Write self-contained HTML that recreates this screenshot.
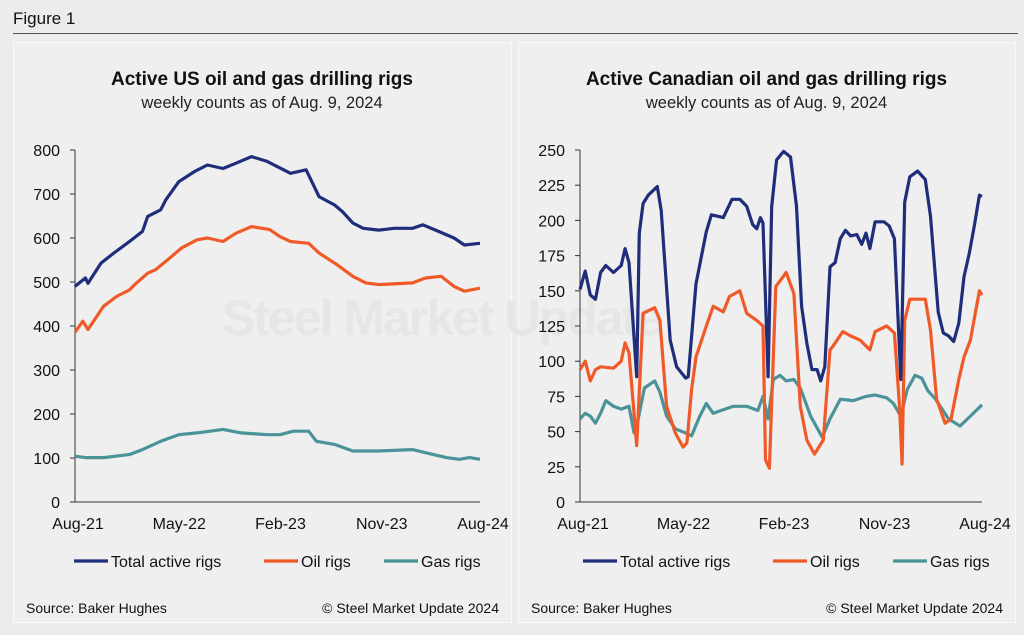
<!DOCTYPE html>
<html><head><meta charset="utf-8"><style>
body{margin:0;background:#ececec;width:1024px;height:630px;overflow:hidden;font-family:"Liberation Sans",Arial,sans-serif}
</style></head><body>
<svg width="1024" height="630" xmlns="http://www.w3.org/2000/svg" font-family="Liberation Sans, Arial, sans-serif" id="fig">
<rect x="0" y="0" width="1024" height="630" fill="#ececec"/>
<text x="13" y="24" font-size="17" fill="#111">Figure 1</text>
<line x1="13" y1="33.5" x2="1018" y2="33.5" stroke="#555" stroke-width="1"/>
<rect x="13.5" y="42.5" width="498" height="580" fill="#efefef" stroke="#fafafa"/>
<rect x="518.5" y="42.5" width="497" height="580" fill="#efefef" stroke="#fafafa"/>
<g id="us"></g><g id="ca"></g>
</svg>
<script>
var NS='http://www.w3.org/2000/svg';
// ---- US data (week index since Aug-21, rig count)
var usTotalWeeks=[0,4,5,10,15,21,26,28,33,35,40,46,51,57,62,68,74,83,89,94,100,103,107,111,117,123,130,134,140,146,150,156];
var usTotalVals=[490,509,497,543,566,592,615,649,664,687,728,751,766,758,770,785,774,747,755,694,675,660,634,622,618,622,622,630,615,600,584,588];
var usOilWeeks=[0,3,5,11,16,21,23,28,31,35,41,47,51,57,62,68,75,79,83,90,94,101,107,112,117,130,135,141,146,150,156];
var usOilVals=[386,411,392,445,467,482,494,520,528,547,577,596,600,592,611,626,619,603,592,588,566,539,513,498,494,498,509,513,490,479,486];
var usGasWeeks=[0,4,11,21,26,33,40,47,52,57,64,74,79,84,90,93,100,107,117,130,135,143,148,152,156];
var usGasVals=[104,101,101,108,119,138,153,157,161,165,157,153,153,161,161,138,131,116,116,119,112,101,97,101,97];
var usTicks=[0,100,200,300,400,500,600,700,800];
// ---- Canada data
var caTotalWeeks=[0,2,4,6,8,10,13,16,17.5,19,22,23,24.5,26.5,30,31.5,35,37.5,41,42,45,49,51,55.6,59,62,64.7,67,68.6,70,71,73,74.4,76.3,79,81.7,84,86,88,90,92,93.4,95,97,99,101,103,105,107.4,109.3,111,112.5,114.5,118,120,122,124.5,126,128,131,134,136,138,139,141,143,145,147,149,151,153,155,156];
var caTotalVals=[151,164,147,144,163,168,163,168,180,170,89,191,212,218,224,207,115,96,88,89,155,192,204,202,215,215,210,197,194,202,198,89,210,243,249,245,210,139,113,94,94,86,96,167,170,187,193,189,190,183,191,180,199,199,196,187,87,213,231,235,229,203,158,135,120,118,114,127,160,176,196,218,217];
var caOilWeeks=[0,2,4,6,8,13,16,17.5,19,22,24.5,29,31,33.6,37,40,41.5,43.3,45,49,51.7,55.6,58,62,64.7,68.6,71,72,73.5,76,80,83,85.5,88,91,94.4,97,98.3,102,105,108.7,112.5,114.5,119,122,124,125,126,128,134,136,138.4,141.7,144,147,149,151.5,155,156];
var caOilVals=[94,100,86,94,96,95,100,113,106,40,134,138,129,68,49,39,42,80,103,125,139,135,146,150,134,129,125,30,24,153,163,148,68,44,34,44,108,111,121,118,115,108,121,125,120,68,27,129,144,144,122,73,56,59,87,103,115,150,147];
var caGasWeeks=[0,2,4,6,8,10,13,16,19,21,22.6,25,29,31,33.6,37,41,43.3,46.5,49,51.7,59.5,64.7,69,71,73,75,77.6,80,83,85.5,89.5,94,97,101,106,111,114.5,119,121.6,124.5,127,130,132.6,135,138,140.5,143,147.5,151.5,156];
var caGasVals=[59,63,61,56,63,72,68,66,68,49,59,81,86,78,61,52,49,47,61,70,63,68,68,65,75,59,87,90,86,87,81,61,46,59,73,72,75,76,74,70,61,80,90,88,79,73,66,59,54,61,69];
var caTicks=[0,25,50,75,100,125,150,175,200,225,250];
var xLabels=['Aug-21','May-22','Feb-23','Nov-23','Aug-24'];
var xLabelWeeks=[0,39,78,117,156];

function el(tag,attrs,parent){var e=document.createElementNS(NS,tag);for(var k in attrs)e.setAttribute(k,attrs[k]);parent.appendChild(e);return e;}

function chart(g,cfg){
  var x0=cfg.x0,x1=cfg.x1,yTop=150,yBot=502;
  function sx(w){return x0+(x1-x0)*w/156;}
  function sy(v){return yBot-(yBot-yTop)*v/cfg.ymax;}
  var cx=(cfg.px+cfg.px2)/2;
  var t=el('text',{x:cx,y:85,'font-size':19,'font-weight':'bold','text-anchor':'middle',fill:'#111'},g);t.textContent=cfg.title;
  
  
  var s=el('text',{x:cx,y:108,'font-size':16.5,'text-anchor':'middle',fill:'#222'},g);s.textContent='weekly counts as of Aug. 9, 2024';
  
  
  var wm=el('text',{x:cfg.wmx,y:335,'font-size':50,'font-weight':'bold',fill:'#e6e6e6','letter-spacing':'-2'},g);wm.textContent=cfg.wm;
  
  
  el('line',{x1:x0,y1:yTop,x2:x0,y2:yBot,stroke:'#333','stroke-width':1},g);
  el('line',{x1:x0,y1:yBot,x2:x1,y2:yBot,stroke:'#333','stroke-width':1},g);
  cfg.ticks.forEach(function(v){
    el('line',{x1:x0-5,y1:sy(v),x2:x0,y2:sy(v),stroke:'#333'},g);
    var tl=el('text',{x:x0-15,y:sy(v)+6,'font-size':16,'text-anchor':'end',fill:'#111'},g);tl.textContent=v;
    
    
  });
  xLabels.forEach(function(l,i){
    var xl=el('text',{x:sx(xLabelWeeks[i])+3,y:529,'font-size':16,'text-anchor':'middle',fill:'#111'},g);xl.textContent=l;
    
    
  });
  cfg.series.forEach(function(sr){
    var d=sr.w.map(function(w,i){return (i?'L':'M')+sx(w).toFixed(1)+','+sy(sr.v[i]).toFixed(1);}).join('');
    var p=el('path',{d:d,fill:'none',stroke:sr.c,'stroke-width':3.2,'stroke-linejoin':'round'},g);
    
    
  });
  var lx=cfg.legx;
  [['Total active rigs','#1f2d7a',0],['Oil rigs','#f05a28',cfg.l2],['Gas rigs','#4a9398',cfg.l3]].forEach(function(L){
    el('line',{x1:lx+L[2],y1:561,x2:lx+L[2]+34,y2:561,stroke:L[1],'stroke-width':3.2},g);
    var lt=el('text',{x:lx+L[2]+37,y:567,'font-size':16,fill:'#111'},g);lt.textContent=L[0];
    
    
  });
  var so=el('text',{x:cfg.px+13,y:613,'font-size':14,fill:'#111'},g);so.textContent='Source: Baker Hughes';
  
  
  var cp=el('text',{x:cfg.px2-12,y:613,'font-size':14,'text-anchor':'end',fill:'#111'},g);cp.textContent='\u00a9 Steel Market Update 2024';
  
  
}
chart(document.getElementById('us'),{x0:75,x1:480,px:13,px2:511,ymax:800,ticks:usTicks,title:'Active US oil and gas drilling rigs',wm:'Steel Market Update',wmx:222,legx:74,l2:190,l3:310,
  series:[{w:usGasWeeks,v:usGasVals,c:'#4a9398',n:'us-gas-line'},{w:usOilWeeks,v:usOilVals,c:'#f05a28',n:'us-oil-line'},{w:usTotalWeeks,v:usTotalVals,c:'#1f2d7a',n:'us-total-line'}]});
chart(document.getElementById('ca'),{x0:580,x1:982,px:518,px2:1015,ymax:250,ticks:caTicks,title:'Active Canadian oil and gas drilling rigs',wm:'',wmx:560,legx:583,l2:190,l3:310,
  series:[{w:caGasWeeks,v:caGasVals,c:'#4a9398',n:'ca-gas-line'},{w:caOilWeeks,v:caOilVals,c:'#f05a28',n:'ca-oil-line'},{w:caTotalWeeks,v:caTotalVals,c:'#1f2d7a',n:'ca-total-line'}]});
</script>
</body></html>
